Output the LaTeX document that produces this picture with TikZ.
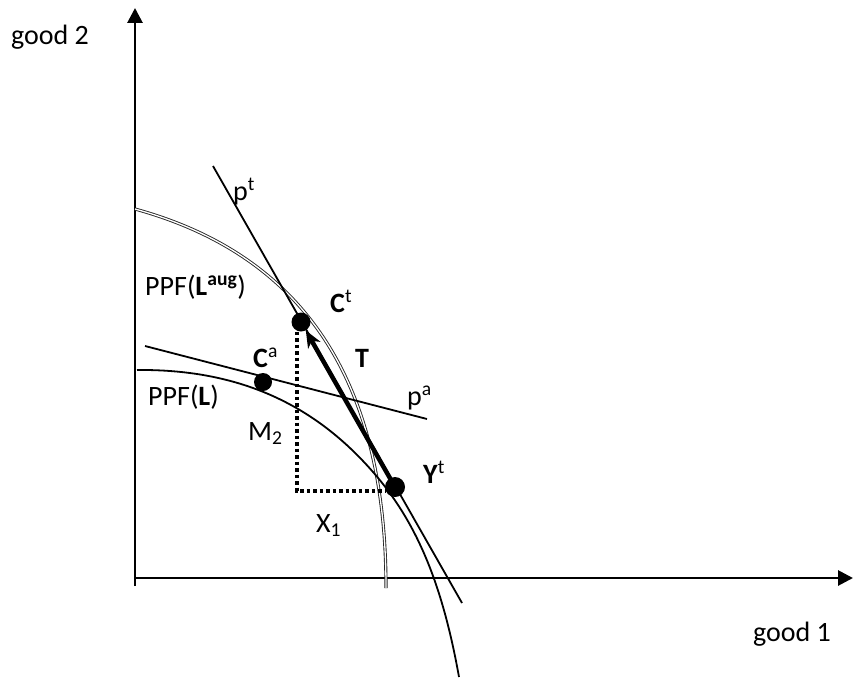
\documentclass[tikz,border=0pt]{standalone}
\usepackage{fontspec}
\setmainfont{Carlito}
\usetikzlibrary{arrows.meta}
\begin{document}
\begin{tikzpicture}[x=1pt,y=-1pt,
  axis/.style={line width=2.8pt,-{Triangle[length=15pt,width=15pt]}},
  thinline/.style={line width=1.8pt},
  ppfaug/.style={line width=0.9pt, draw=black!85, double=white, double distance=1.3pt},
  dotmark/.style={circle, fill=black, minimum size=19pt, inner sep=0pt},
  lbl/.style={inner sep=0pt, anchor=base west, font=\fontsize{28}{34}\selectfont},
  tarrow/.style={line width=4.5pt, -{Stealth[length=17pt,width=14pt,inset=5pt]}},
  dotline/.style={line width=3.5pt, dash pattern=on 3.5pt off 3pt}
]
\useasboundingbox (0,0) rectangle (861,677);

% axes
\coordinate (O) at (135,578);
\coordinate (Ob) at (135,586);
\coordinate (Ytop) at (135,8);
\coordinate (Xend) at (853,578);
\draw[axis] (Ob) -- (Ytop);
\draw[axis] (O) -- (Xend);

% PPF(L^aug) double curve
\coordinate (A0) at (135,209);
\coordinate (A1) at (386,588);
\draw[ppfaug] (A0) .. controls (290.6,251.8) and (386,364.8) .. (A1);

% PPF(L)
\coordinate (L0) at (137,370);
\coordinate (Lm) at (373,472);
\coordinate (L1) at (459,677);
\draw[thinline] (L0) .. controls (237,369) and (313,403) .. (Lm)
                     .. controls (416.4,521.7) and (442.2,583.2) .. (L1);

% price lines
\coordinate (pt1) at (213,166);
\coordinate (pt2) at (462,603);
\draw[thinline] (pt1) -- (pt2);
\coordinate (pa1) at (145,346);
\coordinate (pa2) at (427,419);
\draw[thinline] (pa1) -- (pa2);

% dots
\node[dotmark] (Ct) at (301,322) {};
\node[dotmark, minimum size=18pt] (Ca) at (263,382) {};
\node[dotmark, minimum size=20pt] (Yt) at (395,487) {};

% dotted lines
\coordinate (corner) at (297,491);
\draw[dotline] (Ct.south -| corner) -- (corner) -- (Yt.west |- corner);

% trade arrow
\draw[tarrow] (Yt.center) -- (Ct);

% labels
\node[lbl] (g2) at (11,45) {good 2};
\node[lbl] (g1) at (753,641) {good 1};
\node[lbl] (ppfaug) at (145,295) {PPF(\textbf{L}\textsuperscript{\textbf{aug}})};
\node[lbl] (ppfl) at (148,405) {PPF(\textbf{L})};
\node[lbl] (lCa) at (253,367) {\textbf{C}\textsuperscript{a}};
\node[lbl] (lCt) at (330,312) {\textbf{C}\textsuperscript{t}};
\node[lbl] (lT) at (355,367) {\textbf{T}};
\node[lbl] (lpa) at (407,405) {p\textsuperscript{a}};
\node[lbl] (lpt) at (233,200) {p\textsuperscript{t}};
\node[lbl] (lM) at (248,440) {M\textsubscript{2}};
\node[lbl] (lX) at (316,532) {X\textsubscript{1}};
\node[lbl] (lYt) at (423,483) {\textbf{Y}\textsuperscript{t}};
\end{tikzpicture}
\end{document}
